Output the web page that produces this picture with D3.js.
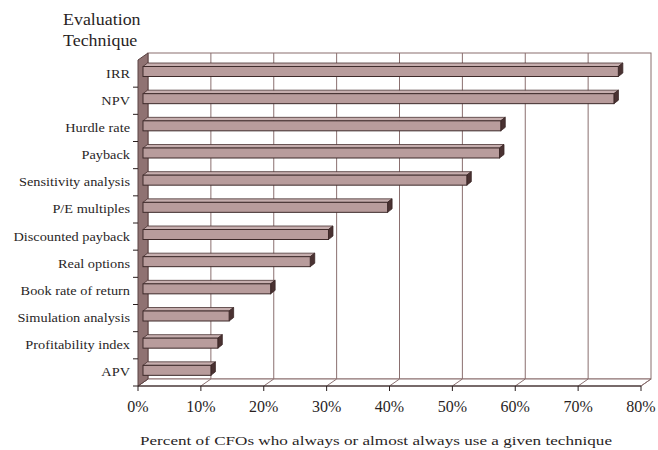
<!DOCTYPE html>
<html>
<head>
<meta charset="utf-8">
<title>Evaluation Technique</title>
<script src="https://d3js.org/d3.v7.min.js"></script>
<style>
  body { margin: 0; background: #fff; }
  text { font-family: "Liberation Serif", "Times New Roman", serif; fill: #2a1f1f; }
</style>
</head>
<body>
<div id="chart"></div>
<script>
// survey values (percent of CFOs)
var techniques = ["IRR", "NPV", "Hurdle rate", "Payback", "Sensitivity analysis", "P/E multiples",
                  "Discounted payback", "Real options", "Book rate of return", "Simulation analysis",
                  "Profitability index", "APV"];
var percents = [75.6, 74.9, 56.9, 56.7, 51.5, 38.9, 29.5, 26.6, 20.3, 13.7, 11.9, 10.8];
var xTicks = [0, 10, 20, 30, 40, 50, 60, 70, 80];

var W = 658, H = 450;
var x0 = 138, plotTop = 60, floorY = 386;
var dx = 10, dy = -7;     // depth of the box
var bdx = 4.5, bdy = -3.5; // depth of a bar

var svg = d3.select("#chart").append("svg").attr("width", W).attr("height", H);

var x = d3.scaleLinear().domain([0, 80]).range([x0, 641]);
var y = d3.scaleBand().domain(techniques).range([plotTop, floorY]);

var line = "#8a6f6f";

// back wall
svg.append("rect")
  .attr("x", x(0) + dx).attr("y", plotTop + dy)
  .attr("width", x(80) - x(0)).attr("height", floorY - plotTop)
  .attr("fill", "#fff").attr("stroke", line).attr("stroke-width", 1);

// grid on back wall
svg.selectAll(".grid").data(xTicks.slice(1, -1)).enter().append("line")
  .attr("x1", d => x(d) + dx).attr("x2", d => x(d) + dx)
  .attr("y1", plotTop + dy).attr("y2", floorY + dy)
  .attr("stroke", line).attr("stroke-width", 1);

// floor
svg.append("path")
  .attr("d", "M" + x(0) + "," + floorY + "L" + x(80) + "," + floorY +
             "L" + (x(80) + dx) + "," + (floorY + dy) + "L" + (x(0) + dx) + "," + (floorY + dy) + "Z")
  .attr("fill", "#fff").attr("stroke", line);
svg.selectAll(".fgrid").data(xTicks).enter().append("line")
  .attr("x1", d => x(d)).attr("y1", floorY)
  .attr("x2", d => x(d) + dx).attr("y2", floorY + dy)
  .attr("stroke", line);

// left side wall
svg.append("path")
  .attr("d", "M" + x0 + "," + plotTop + "L" + (x0 + dx) + "," + (plotTop + dy) +
             "L" + (x0 + dx) + "," + (floorY + dy) + "L" + x0 + "," + floorY + "Z")
  .attr("fill", "#8f7272").attr("stroke", "#5a4242");

// bars, sitting at mid depth
var bars = svg.selectAll(".bar").data(techniques).enter().append("g");
bars.each(function(d, i) {
  var g = d3.select(this);
  var yT = y(d) + 6.5, h = 10;
  var xs = x0 + 5, xe = x(percents[i]) + 5;
  // top face
  g.append("path")
    .attr("d", "M" + xs + "," + yT + "L" + (xs + bdx) + "," + (yT + bdy) +
               "L" + (xe + bdx) + "," + (yT + bdy) + "L" + xe + "," + yT + "Z")
    .attr("fill", "#c6aeae").attr("stroke", "#4a3434").attr("stroke-width", 0.8);
  // end face
  g.append("path")
    .attr("d", "M" + xe + "," + yT + "L" + (xe + bdx) + "," + (yT + bdy) +
               "L" + (xe + bdx) + "," + (yT + h + bdy) + "L" + xe + "," + (yT + h) + "Z")
    .attr("fill", "#4a3232").attr("stroke", "#3a2626").attr("stroke-width", 0.8);
  // front face
  g.append("rect")
    .attr("x", xs).attr("y", yT).attr("width", xe - xs).attr("height", h)
    .attr("fill", "#b89c9c").attr("stroke", "#3e2a2a").attr("stroke-width", 1);
});

// category ticks on left edge
svg.selectAll(".ytick").data(techniques.slice(1)).enter().append("line")
  .attr("x1", x0 - 5).attr("x2", x0)
  .attr("y1", d => y(d)).attr("y2", d => y(d))
  .attr("stroke", "#2a1f1f");

// front edge of floor with ticks
svg.append("line").attr("x1", x0 - 5).attr("x2", x(80))
  .attr("y1", floorY).attr("y2", floorY).attr("stroke", "#2a1f1f").attr("stroke-width", 1.2);
svg.selectAll(".xtick").data(xTicks).enter().append("line")
  .attr("x1", d => x(d)).attr("x2", d => x(d))
  .attr("y1", floorY).attr("y2", floorY + 5)
  .attr("stroke", "#2a1f1f");

// labels (the original glyphs are a little wider than Liberation Serif, so stretch them)
svg.selectAll(".ylab").data(techniques).enter().append("text")
  .attr("transform", d => "translate(130," + (y(d) + y.bandwidth() / 2 + 4) + ") scale(1.12,1)")
  .attr("text-anchor", "end").attr("font-size", 12.8)
  .text(d => d);

svg.selectAll(".xlab").data(xTicks).enter().append("text")
  .attr("x", d => x(d)).attr("y", 412)
  .attr("text-anchor", "middle").attr("font-size", 16)
  .text(d => d + "%");

svg.append("text").attr("transform", "translate(63,25) scale(1.12,1)").attr("font-size", 16).text("Evaluation");
svg.append("text").attr("transform", "translate(63,46) scale(1.12,1)").attr("font-size", 16).text("Technique");

svg.append("text").attr("x", 376).attr("y", 445).attr("text-anchor", "middle")
  .attr("font-size", 13).attr("textLength", 472).attr("lengthAdjust", "spacingAndGlyphs")
  .text("Percent of CFOs who always or almost always use a given technique");
</script>
</body>
</html>
